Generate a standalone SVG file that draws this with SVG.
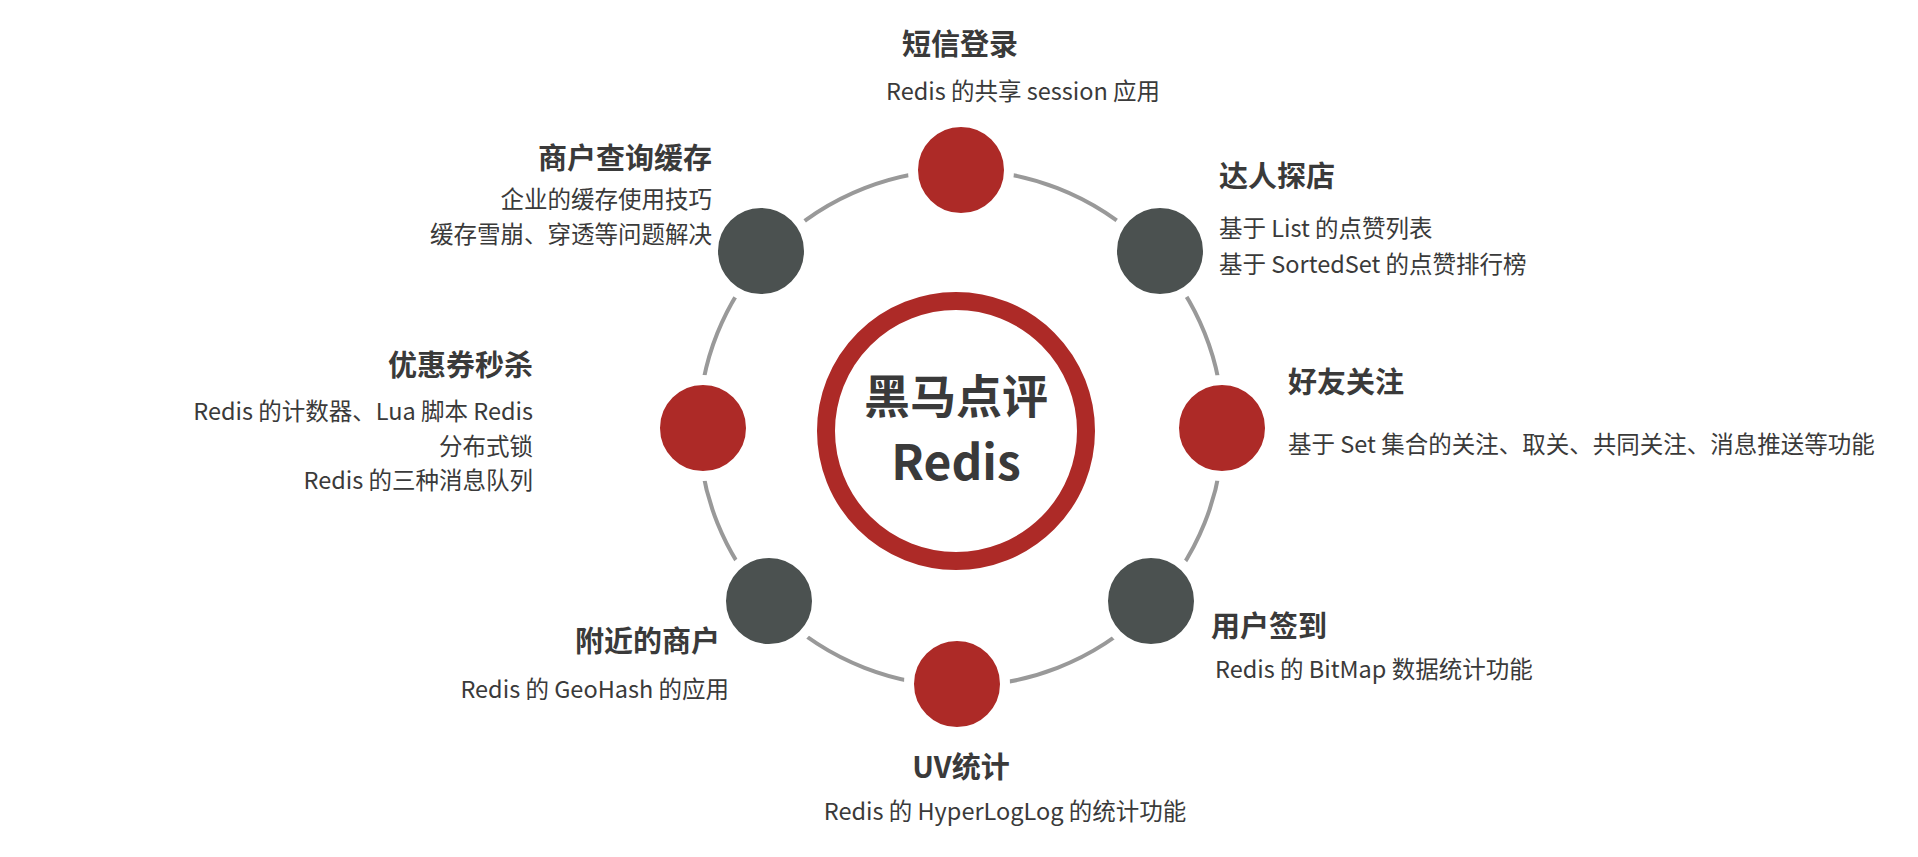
<svg xmlns="http://www.w3.org/2000/svg" width="1918" height="857" viewBox="0 0 1918 857">
<style>
.t{font-family:"Noto Sans CJK SC","Noto Sans",sans-serif;font-weight:700;font-size:29px;fill:#3a3a3a}
.s{font-family:"Noto Sans CJK SC","Noto Sans",sans-serif;font-size:23.5px;fill:#3a3a3a}
.r{fill:#AD2A27;stroke:#fff;stroke-width:10}
.d{fill:#4B5150;stroke:#fff;stroke-width:10}
</style>
<rect width="1918" height="857" fill="#fff"/>
<g id="connectors"><ellipse cx="961" cy="428" rx="262" ry="258" fill="none" stroke="#999" stroke-width="4"/></g>
<g id="center"><circle cx="956" cy="431" r="130" fill="#fff" stroke="#AD2A27" stroke-width="18"/>
<text x="956" y="413" text-anchor="middle" class="t" style="font-size:46px">黑马点评</text>
<text x="956" y="480" text-anchor="middle" class="t" style="font-size:48px">Redis</text></g>
<g id="n1"><circle class="r" cx="961" cy="170" r="48"/><text class="t" x="960" y="55" text-anchor="middle">短信登录</text><text class="s" x="1023" y="100" text-anchor="middle">Redis 的共享 session 应用</text></g>
<g id="n2"><circle class="d" cx="1160" cy="251" r="48"/><text class="t" x="1219" y="187">达人探店</text><text class="s" x="1219" y="237">基于 List 的点赞列表</text><text class="s" x="1219" y="273">基于 SortedSet 的点赞排行榜</text></g>
<g id="n3"><circle class="r" cx="1222" cy="428" r="48"/><text class="t" x="1288" y="393">好友关注</text><text class="s" x="1288" y="453">基于 Set 集合的关注、取关、共同关注、消息推送等功能</text></g>
<g id="n4"><circle class="d" cx="1151" cy="601" r="48"/><text class="t" x="1211" y="637">用户签到</text><text class="s" x="1215" y="678">Redis 的 BitMap 数据统计功能</text></g>
<g id="n5"><circle class="r" cx="957" cy="684" r="48"/><text class="t" x="961" y="778" text-anchor="middle">UV统计</text><text class="s" x="1005" y="820" text-anchor="middle">Redis 的 HyperLogLog 的统计功能</text></g>
<g id="n6"><circle class="d" cx="769" cy="601" r="48"/><text class="t" x="720" y="652" text-anchor="end">附近的商户</text><text class="s" x="729" y="698" text-anchor="end">Redis 的 GeoHash 的应用</text></g>
<g id="n7"><circle class="r" cx="703" cy="428" r="48"/><text class="t" x="533" y="376" text-anchor="end">优惠券秒杀</text><text class="s" x="533" y="420" text-anchor="end">Redis 的计数器、Lua 脚本 Redis</text><text class="s" x="533" y="455" text-anchor="end">分布式锁</text><text class="s" x="533" y="489" text-anchor="end">Redis 的三种消息队列</text></g>
<g id="n8"><circle class="d" cx="761" cy="251" r="48"/><text class="t" x="712" y="169" text-anchor="end">商户查询缓存</text><text class="s" x="712" y="208" text-anchor="end">企业的缓存使用技巧</text><text class="s" x="712" y="243" text-anchor="end">缓存雪崩、穿透等问题解决</text></g>
</svg>
